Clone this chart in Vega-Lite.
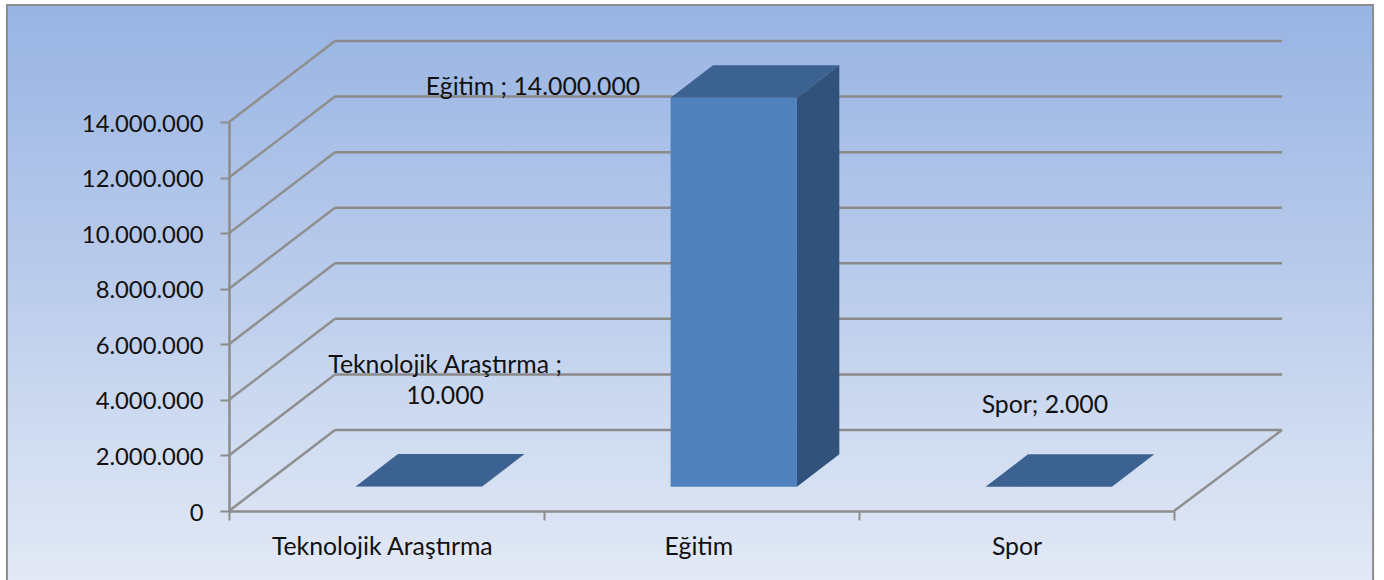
{"$schema":"https://vega.github.io/schema/vega-lite/v6.json","autosize":"none","width":945,"height":389,"padding":{"left":229,"top":122,"right":210,"bottom":69},"background":"#ffffff","config":{"view":{"stroke":null},"locale":{"number":{"decimal":",","thousands":".","grouping":[3],"currency":["",""]}}},
"datasets":{"bars":[{"category":"Teknolojik Araştırma","value":10000,"label":["Teknolojik Araştırma ;","10.000"]},{"category":"Eğitim","value":14000000,"label":"Eğitim ; 14.000.000"},{"category":"Spor","value":2000,"label":"Spor; 2.000"}],"ticks":[{"value":0},{"value":2000000},{"value":4000000},{"value":6000000},{"value":8000000},{"value":10000000},{"value":12000000},{"value":14000000}]},
"layer":[
{"data":{"values":[{}]},"mark":{"type":"rect","fill":{"x1":0,"y1":0,"x2":0,"y2":1,"gradient":"linear","stops":[{"offset":0,"color":"#98b4e3"},{"offset":0.5,"color":"#bccdec"},{"offset":0.75,"color":"#d0dcf1"},{"offset":1,"color":"#e3e9f6"}]},"stroke":"#8c8c8c","strokeWidth":2},"encoding":{"x":{"datum":-0.705,"type":"quantitative","scale":{"domain":[0,3],"nice":false,"zero":false}},"x2":{"datum":3.632},"y":{"datum":18210000,"type":"quantitative","scale":{"domain":[0,14000000],"nice":false,"zero":false}},"y2":{"datum":-2620000}}},
{"data":{"name":"ticks"},"transform":[{"calculate":"datum.value+2915000","as":"backValue"}],"mark":{"type":"rule","color":"#8f8f8f","strokeWidth":2.5},"encoding":{"x":{"datum":0,"type":"quantitative","scale":{"domain":[0,3],"nice":false,"zero":false},"axis":{"title":null,"zindex":1,"values":[0,0.485,1,1.49,2,2.5,3],"grid":false,"domainColor":"#8c8c8c","domainWidth":2.5,"tickColor":"#8c8c8c","tickWidth":2,"tickSize":9,"tickOpacity":{"condition":{"test":"datum.value==0||datum.value==1||datum.value==2||datum.value==3","value":1},"value":0},"labelExpr":"datum.value==0.485?'Teknolojik Araştırma':datum.value==1.49?'Eğitim':datum.value==2.5?'Spor':''","labelFont":"Lato","labelFontSize":24.8,"labelColor":"#111111","labelPadding":14,"labelLimit":400,"labelOverlap":false,"labelBound":false,"labelFlush":false}},"x2":{"datum":0.3365},"y":{"field":"value","type":"quantitative","scale":{"domain":[0,14000000],"nice":false,"zero":false},"axis":{"title":null,"zindex":1,"values":[0,2000000,4000000,6000000,8000000,10000000,12000000,14000000],"format":",d","grid":false,"domainColor":"#8c8c8c","domainWidth":2.5,"tickColor":"#8c8c8c","tickWidth":2,"tickSize":9,"labelFont":"Lato","labelFontSize":23.8,"labelColor":"#111111","labelPadding":17,"labelOffset":2}},"y2":{"field":"backValue"}}},
{"data":{"name":"ticks"},"transform":[{"calculate":"datum.value+2915000","as":"backValue"}],"mark":{"type":"rule","color":"#8a8a8a","strokeWidth":2.5},"encoding":{"x":{"datum":0.3365,"type":"quantitative","scale":{"domain":[0,3],"nice":false,"zero":false}},"x2":{"datum":3.343},"y":{"field":"backValue","type":"quantitative","scale":{"domain":[0,14000000],"nice":false,"zero":false}}}},
{"data":{"values":[{}]},"mark":{"type":"rule","color":"#8f8f8f","strokeWidth":2.5},"encoding":{"x":{"datum":3,"type":"quantitative","scale":{"domain":[0,3],"nice":false,"zero":false}},"x2":{"datum":3.343},"y":{"datum":0,"type":"quantitative","scale":{"domain":[0,14000000],"nice":false,"zero":false}},"y2":{"datum":2915000}}},
{"data":{"name":"bars"},"transform":[{"calculate":"indexof(['Teknolojik Araştırma','Eğitim','Spor'],datum.category)","as":"idx"},{"calculate":"[0.3,0.7]","as":"d"},{"flatten":["d"]},{"calculate":"datum.idx+0.301+datum.d*0.3365","as":"xl"},{"calculate":"datum.idx+0.702+datum.d*0.3365","as":"xr"},{"calculate":"datum.value+datum.d*2915000","as":"yt"}],"mark":{"type":"area","orient":"horizontal","color":"#3c6291","opacity":1},"encoding":{"detail":{"field":"category"},"y":{"field":"yt","type":"quantitative","scale":{"domain":[0,14000000],"nice":false,"zero":false}},"x":{"field":"xl","type":"quantitative","scale":{"domain":[0,3],"nice":false,"zero":false}},"x2":{"field":"xr"}}},
{"data":{"name":"bars"},"transform":[{"calculate":"indexof(['Teknolojik Araştırma','Eğitim','Spor'],datum.category)","as":"idx"},{"calculate":"[0.3,0.7]","as":"d"},{"flatten":["d"]},{"calculate":"datum.idx+0.702+datum.d*0.3365","as":"xs"},{"calculate":"datum.d*2915000","as":"yb"},{"calculate":"datum.value+datum.d*2915000","as":"yt"}],"mark":{"type":"area","color":"#31527b","opacity":1},"encoding":{"detail":{"field":"category"},"x":{"field":"xs","type":"quantitative","scale":{"domain":[0,3],"nice":false,"zero":false}},"y":{"field":"yb","type":"quantitative","scale":{"domain":[0,14000000],"nice":false,"zero":false}},"y2":{"field":"yt"}}},
{"data":{"name":"bars"},"transform":[{"calculate":"indexof(['Teknolojik Araştırma','Eğitim','Spor'],datum.category)","as":"idx"},{"calculate":"datum.idx+0.402","as":"x0"},{"calculate":"datum.x0+0.401","as":"x1"},{"calculate":"874500","as":"yb"},{"calculate":"datum.value+874500","as":"yt"}],"mark":{"type":"rect","color":"#4f81bd","opacity":1},"encoding":{"x":{"field":"x0","type":"quantitative","scale":{"domain":[0,3],"nice":false,"zero":false}},"x2":{"field":"x1"},"y":{"field":"yb","type":"quantitative","scale":{"domain":[0,14000000],"nice":false,"zero":false}},"y2":{"field":"yt"}}},
{"data":{"name":"bars"},"transform":[{"calculate":"datum.category=='Eğitim'?0.965:datum.category=='Spor'?2.59:0.686","as":"lx"},{"calculate":"datum.category=='Eğitim'?15230000:datum.category=='Spor'?3780000:5220000","as":"ly"},{"calculate":"datum.category=='Teknolojik Araştırma'?25:24.5","as":"fs"}],"mark":{"type":"text","font":"Lato","fontSize":24.8,"color":"#111111","align":"center","baseline":"middle","lineHeight":31},"encoding":{"x":{"field":"lx","type":"quantitative","scale":{"domain":[0,3],"nice":false,"zero":false}},"y":{"field":"ly","type":"quantitative","scale":{"domain":[0,14000000],"nice":false,"zero":false}},"text":{"field":"label"}}}
]}
